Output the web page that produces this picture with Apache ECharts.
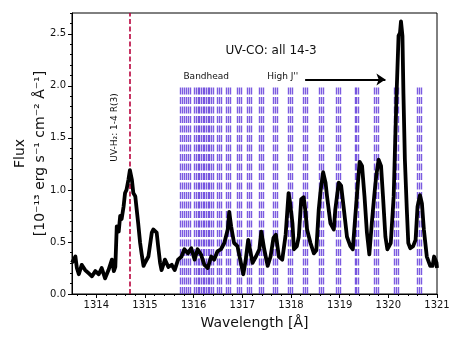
<!DOCTYPE html>
<html>
<head>
<meta charset="utf-8">
<script src="https://cdn.jsdelivr.net/npm/echarts@6/dist/echarts.min.js"></script>
<style>
  html, body { margin: 0; padding: 0; background: #fff; }
  #chart { width: 461px; height: 346px; }
</style>
</head>
<body>
<div id="chart"></div>
<script>
// spectrum: wavelength [Å] and flux [1e-13 erg/s/cm2/Å]
const wave = [
  1313.50, 1313.57, 1313.60, 1313.64, 1313.70, 1313.77, 1313.84, 1313.91, 1313.98, 1314.05,
  1314.11, 1314.18, 1314.25, 1314.32, 1314.36, 1314.39, 1314.42, 1314.46, 1314.49, 1314.52,
  1314.56, 1314.59, 1314.62, 1314.66, 1314.69, 1314.73, 1314.76, 1314.80, 1314.83, 1314.86,
  1314.90, 1314.93, 1314.97, 1315.00, 1315.07, 1315.14, 1315.17, 1315.24, 1315.27, 1315.31,
  1315.34, 1315.41, 1315.48, 1315.55, 1315.61, 1315.68, 1315.75, 1315.81, 1315.88, 1315.95,
  1316.02, 1316.08, 1316.15, 1316.22, 1316.29, 1316.36, 1316.42, 1316.49, 1316.56, 1316.63,
  1316.70, 1316.73, 1316.77, 1316.83, 1316.90, 1316.97, 1317.02, 1317.07, 1317.12, 1317.21,
  1317.28, 1317.35, 1317.39, 1317.45, 1317.52, 1317.58, 1317.64, 1317.69, 1317.75, 1317.82,
  1317.89, 1317.95, 1317.98, 1318.03, 1318.06, 1318.12, 1318.16, 1318.21, 1318.26, 1318.30,
  1318.33, 1318.40, 1318.47, 1318.52, 1318.57, 1318.61, 1318.66, 1318.71, 1318.74, 1318.81,
  1318.88, 1318.91, 1318.98, 1319.03, 1319.08, 1319.15, 1319.22, 1319.27, 1319.32, 1319.37,
  1319.41, 1319.46, 1319.51, 1319.56, 1319.61, 1319.66, 1319.71, 1319.75, 1319.80, 1319.85,
  1319.89, 1319.94, 1319.98, 1320.05, 1320.11, 1320.14, 1320.17, 1320.21, 1320.24, 1320.26,
  1320.29, 1320.31, 1320.34, 1320.38, 1320.41, 1320.45, 1320.51, 1320.56, 1320.60, 1320.65,
  1320.69, 1320.73, 1320.79, 1320.86, 1320.91, 1320.94, 1320.99, 1321.00
];
const flux = [
  0.30, 0.36, 0.25, 0.19, 0.28, 0.23, 0.20, 0.17, 0.22, 0.19,
  0.25, 0.15, 0.23, 0.33, 0.22, 0.26, 0.65, 0.60, 0.75, 0.72,
  0.84, 0.97, 1.00, 1.10, 1.19, 1.10, 0.97, 0.94, 0.81, 0.68,
  0.49, 0.39, 0.27, 0.30, 0.36, 0.59, 0.62, 0.59, 0.46, 0.30,
  0.23, 0.33, 0.26, 0.28, 0.23, 0.33, 0.36, 0.43, 0.39, 0.44,
  0.33, 0.43, 0.38, 0.28, 0.25, 0.36, 0.33, 0.41, 0.43, 0.49,
  0.62, 0.79, 0.65, 0.49, 0.46, 0.30, 0.19, 0.33, 0.52, 0.30,
  0.36, 0.43, 0.60, 0.43, 0.27, 0.36, 0.54, 0.57, 0.36, 0.33,
  0.57, 0.97, 0.88, 0.68, 0.43, 0.46, 0.55, 0.91, 0.93, 0.78,
  0.62, 0.49, 0.39, 0.42, 0.81, 1.00, 1.17, 1.07, 0.94, 0.68,
  0.62, 0.81, 1.07, 1.04, 0.84, 0.55, 0.46, 0.43, 0.74, 1.04,
  1.27, 1.23, 0.94, 0.59, 0.38, 0.68, 0.94, 1.13, 1.29, 1.23,
  0.94, 0.55, 0.43, 0.49, 0.94, 1.45, 1.93, 2.48, 2.51, 2.62,
  2.48, 1.93, 1.29, 0.81, 0.49, 0.44, 0.46, 0.52, 0.84, 0.95,
  0.87, 0.62, 0.36, 0.27, 0.27, 0.36, 0.30, 0.25
];

// UV-CO 14-3 line positions [Å]
const coLines = [
  1315.73, 1315.77, 1315.81, 1315.84, 1315.88, 1315.92,
  1316.01, 1316.05, 1316.09, 1316.12, 1316.16, 1316.20,
  1316.22, 1316.26, 1316.30, 1316.33, 1316.37, 1316.41,
  1316.49, 1316.53, 1316.57, 1316.67, 1316.71, 1316.75,
  1316.89, 1316.93, 1316.97, 1317.11, 1317.15, 1317.19,
  1317.35, 1317.39, 1317.43, 1317.63, 1317.67, 1317.71,
  1317.94, 1317.98, 1318.02, 1318.25, 1318.29, 1318.33,
  1318.59, 1318.63, 1318.67, 1318.94, 1318.98, 1319.02,
  1319.31, 1319.35, 1319.39, 1319.72, 1319.76, 1319.80,
  1320.13, 1320.17, 1320.21, 1320.59, 1320.63, 1320.67
];
const coTop = 2.0;
const h2Line = 1314.69;

const xTicks = [1314, 1315, 1316, 1317, 1318, 1319, 1320, 1321];
const yTicks = [0, 0.5, 1.0, 1.5, 2.0, 2.5];
const xMin = 1313.5, xMax = 1321, yMin = 0, yMax = 2.7;

// minor ticks every 0.2 Å and 0.1 flux units
const xMinor = [];
for (let v = 13136; v <= 13210; v += 2) xMinor.push(v / 10);
const yMinor = [];
for (let v = 1; v <= 27; v++) yMinor.push(v / 10);

const font = '"DejaVu Sans", sans-serif';
const chart = echarts.init(document.getElementById('chart'));

const option = {
  animation: false,
  backgroundColor: '#fff',
  grid: {
    left: 72, right: 24, top: 13, bottom: 52,
    show: true, borderColor: '#000', borderWidth: 1
  },
  xAxis: [
    {
      type: 'value', min: xMin, max: xMax, position: 'bottom',
      splitLine: { show: false },
      axisLine: { show: true, lineStyle: { color: '#000', width: 1 } },
      axisTick: { show: true, inside: false, length: 4, customValues: xTicks, lineStyle: { color: '#000' } },
      axisLabel: {
        customValues: xTicks, fontSize: 10, color: '#111', fontFamily: font, margin: 6,
        formatter: v => String(Math.round(v))
      }
    },
    {
      type: 'value', min: xMin, max: xMax, position: 'bottom',
      splitLine: { show: false },
      axisLine: { show: false },
      axisTick: { show: true, inside: false, length: 2, customValues: xMinor, lineStyle: { color: '#000' } },
      axisLabel: { show: false }
    }
  ],
  yAxis: [
    {
      type: 'value', min: yMin, max: yMax, position: 'left',
      splitLine: { show: false },
      axisLine: { show: true, lineStyle: { color: '#000', width: 1 } },
      axisTick: { show: true, inside: false, length: 4, customValues: yTicks, lineStyle: { color: '#000' } },
      axisLabel: {
        customValues: yTicks, fontSize: 10, color: '#111', fontFamily: font, margin: 6,
        formatter: v => v.toFixed(1)
      }
    },
    {
      type: 'value', min: yMin, max: yMax, position: 'left',
      splitLine: { show: false },
      axisLine: { show: false },
      axisTick: { show: true, inside: false, length: 2, customValues: yMinor, lineStyle: { color: '#000' } },
      axisLabel: { show: false }
    }
  ],
  series: [
    {
      name: 'UV-CO 14-3',
      type: 'lines',
      coordinateSystem: 'cartesian2d',
      xAxisIndex: 0, yAxisIndex: 0,
      silent: true, z: 1,
      lineStyle: { color: '#5a32d8', width: 1.4, opacity: 0.8, type: [7, 2.5] },
      data: coLines.map(w => ({ coords: [[w, 0], [w, coTop]] }))
    },
    {
      name: 'UV-H2',
      type: 'lines',
      coordinateSystem: 'cartesian2d',
      xAxisIndex: 0, yAxisIndex: 0,
      silent: true, z: 2,
      lineStyle: { color: '#b8003c', width: 1.6, opacity: 1, type: [5, 2.5] },
      data: [{ coords: [[h2Line, yMin], [h2Line, yMax]] }]
    },
    {
      name: 'flux',
      type: 'line',
      xAxisIndex: 0, yAxisIndex: 0,
      showSymbol: false, z: 3,
      lineStyle: { color: '#000', width: 3.8, join: 'round' },
      data: wave.map((w, i) => [w, flux[i]])
    },
    {
      name: 'arrow',
      type: 'lines',
      coordinateSystem: 'cartesian2d',
      xAxisIndex: 0, yAxisIndex: 0,
      silent: true, z: 4,
      symbol: ['none', 'arrow'], symbolSize: 9,
      lineStyle: { color: '#000', width: 2, opacity: 1 },
      data: [{ coords: [[1318.29, 2.06], [1319.94, 2.06]] }]
    }
  ]
};
chart.setOption(option);

// annotations placed in data coordinates
const px = (x, y) => chart.convertToPixel({ xAxisIndex: 0, yAxisIndex: 0 }, [x, y]);
const rect = chart.getModel().getComponent('grid', 0).coordinateSystem.getRect();
const cx = rect.x + rect.width / 2, cy = rect.y + rect.height / 2;
const txt = (text, pos, size, extra) => Object.assign({
  type: 'text', x: pos[0], y: pos[1], silent: true,
  style: { text, fontSize: size, fontFamily: font, fill: '#111', align: 'center', verticalAlign: 'middle' }
}, extra || {});

const pTitle = px(1317.59, 2.34);
const pBand = px(1315.79, 2.09);
const pHigh = px(1317.51, 2.09);
const pH2 = px(1314.38, 1.60);

chart.setOption({
  graphic: [
    txt('UV-CO: all 14-3', pTitle, 12),
    { type: 'text', x: pBand[0], y: pBand[1], silent: true,
      style: { text: 'Bandhead', fontSize: 9, fontFamily: font, fill: '#111', align: 'left', verticalAlign: 'middle' } },
    { type: 'text', x: pHigh[0], y: pHigh[1], silent: true,
      style: { text: "High J''", fontSize: 9, fontFamily: font, fill: '#111', align: 'left', verticalAlign: 'middle' } },
    txt('UV-H\u2082: 1-4 R(3)', pH2, 9, { rotation: Math.PI / 2 }),
    txt('Wavelength [Å]', [cx, rect.y + rect.height + 29], 14),
    txt('Flux', [20, cy], 14, { rotation: Math.PI / 2 }),
    txt('[10\u207B\u00B9\u00B3 erg s\u207B\u00B9 cm\u207B\u00B2 Å\u207B\u00B9]', [40, cy], 14, { rotation: Math.PI / 2 })
  ]
});
</script>
</body>
</html>
